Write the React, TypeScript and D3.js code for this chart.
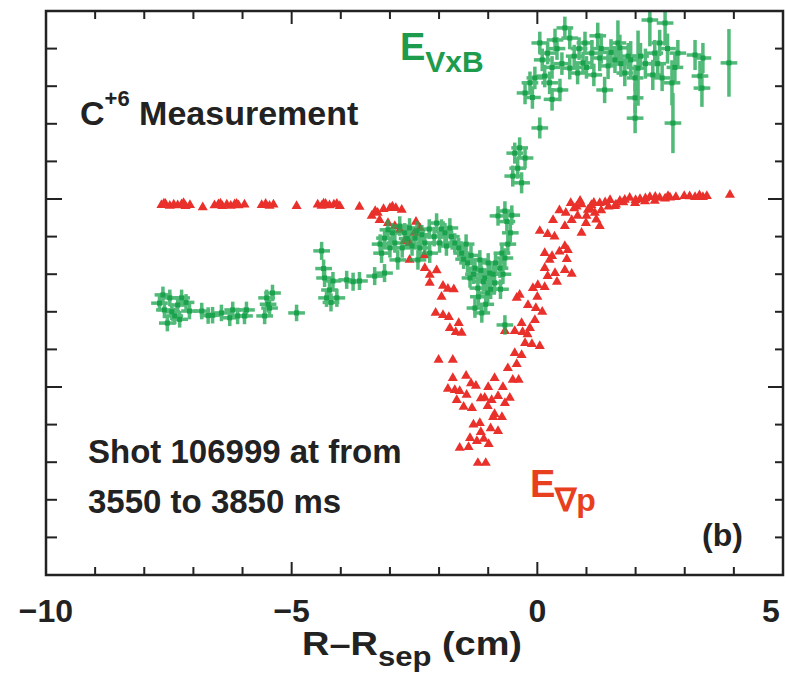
import * as d3 from "d3";

// E_grad_p (red triangles): R-Rsep (cm) and field (arb.)
const redX = [
  -7.65, -7.57, -7.48, -7.4, -7.32, -7.24, -7.16, -7.07, -6.81, -6.57, -6.49, -6.41, -6.32, -6.24, -6.16,
  -6.08, -5.96, -5.61, -5.53, -5.45, -5.37, -4.9, -4.47, -4.39, -4.31, -4.23, -4.14, -4.02, -3.62, -3.37,
  -3.25, -3.13, -3.0, -2.88, -2.76, -3.21, -3.04, -2.9, -2.8, -2.7, -2.6, -2.47, -2.39, -2.6, -2.29,
  -2.19, -2.19, -1.92, -1.82, -2.07, -1.92, -1.8, -1.78, -1.66, -1.54, -2.01, -1.72, -1.72, -1.82, -1.68,
  -1.58, -1.25, -1.44, -1.64, -1.5, -1.33, -1.07, -0.93, -0.8, -0.66, -0.56, -1.01, -0.87, -0.72, -1.17,
  -0.8, -1.37, -1.23, -1.09, -0.99, -1.58, -1.21, -1.05, -0.87, -0.5, -0.38, -0.42, -0.46, -0.32, -0.25,
  -0.11, 0.05, -0.46, -0.3, -0.15, -0.66, -0.32, -0.05, -0.19, -0.03, -0.42, -0.36, 0.01, 0.15, -0.09,
  0.15, 0.25, 0.36, 0.21, 0.56, 0.7, 0.15, 0.3, 0.62, 0.56, 0.05, 0.21, 0.32, 0.56, 0.7, 0.82, 0.58,
  0.99, 1.17, 1.27, 1.07, 0.68, 0.87, 1.27, 1.48, 1.68, 1.88, 2.09, 2.29, 2.49, 2.66, 2.82, 2.99, 3.21,
  3.37, 3.92, 1.58, 1.03, 1.99, 2.39, 0.8, 1.1, 1.38, 1.78, 2.19, 2.6, 0.45, 0.9,
  -2.5, -2.3, -2.05, -1.95, -1.7, -1.6, -1.45, -1.35, -1.15, -1.0, -0.9, -0.95, -1.3, -1.4, -1.15,
  -0.7, -0.6, -0.2, 0.1, 0.0, 0.4, 0.45, 0.6, 0.35, 0.9, 1.0, 1.3, 1.45, 1.6, 1.75, 2.0, 2.2, 2.4,
  2.7, 3.1, 3.45, 3.3, 0.75, 1.2, 1.15, -7.6, -7.2, -6.45, -6.12, -4.35, -4.08, -3.3, -2.95,
];
const redY = [
  -1.6, -1.3, -1.8, -1.5, -1.7, -1.4, -1.9, -1.6, -2.2, -1.7, -1.4, -1.9, -1.5, -1.8, -1.4,
  -1.7, -1.5, -1.6, -1.3, -1.8, -1.5, -1.9, -1.5, -1.8, -1.3, -1.7, -1.5, -1.9, -2.1, -4.5,
  -3.7, -2.7, -2.4, -2.4, -2.9, -5.6, -6.4, -7.2, -8.2, -11.2, -11.7, -6.1, -7.7, -16.2, -18.4,
  -20.2, -22.3, -23.1, -23.9, -30.3, -30.9, -31.4, -34.3, -35.4, -35.6, -42.8, -42.8, -47.6, -50.5, -50.8,
  -51.1, -49.7, -52.1, -53.5, -55.3, -55.6, -52.9, -53.5, -52.4, -54.3, -52.9, -55.1, -57.2, -58.0, -59.6,
  -61.7, -63.6, -64.4, -63.8, -65.2, -66.2, -70.2, -70.2, -47.6, -48.1, -48.1, -43.9, -41.0, -41.5, -38.3,
  -38.6, -39.1, -35.1, -35.4, -34.3, -35.1, -33.0, -32.2, -28.2, -29.0, -26.3, -25.5, -22.9, -23.4, -23.7,
  -18.4, -16.2, -19.7, -20.5, -18.9, -19.9, -14.4, -15.2, -13.6, -12.5, -8.5, -9.3, -5.6, -7.2, -5.6, -4.5, -3.7,
  -6.4, -3.7, -7.2, -2.4, -1.1, -0.5, -1.1, -0.3, -0.5, 0.3, 0.0, 0.5, 0.3, 0.8, 0.5, 0.8, 0.5,
  0.5, 1.1, -1.9, -2.9, -1.1, -0.5, -2.0, -1.6, -0.9, -0.2, -0.6, 0.1, -3.0, -1.4,
  -9.0, -15.0, -19.0, -26.0, -24.0, -33.0, -47.0, -49.0, -53.0, -50.0, -58.0, -61.0, -60.0, -66.0, -62.0,
  -50.0, -45.0, -36.0, -30.0, -26.0, -22.0, -14.0, -16.0, -10.0, -9.0, -4.5, -3.0, -2.0, -1.5, -0.9, -0.3, 0.2, 0.6,
  0.4, 0.7, 0.8, 1.0, -2.5, -5.5, -1.0, -1.2, -1.1, -1.2, -1.3, -1.2, -1.3, -3.2, -2.0,
];

// E_VxB (green, with error bars)
const greenX = [
  -7.69, -7.59, -7.48, -7.38, -7.53, -7.32, -7.24, -7.08, -6.83, -6.61, -6.43, -6.26, -6.1, -5.96, -5.92,
  -5.51, -5.45, -5.55, -5.39, -4.9, -4.39, -4.33, -4.16, -4.23, -4.29, -4.08, -3.88, -3.62, -3.31, -3.11,
  -3.11, -3.0, -2.9, -3.17, -2.84, -3.04, -2.8, -2.7, -2.6, -2.49, -2.39, -2.29, -2.19, -2.43, -2.05,
  -1.88, -1.78, -1.68, -1.99, -1.54, -1.42, -1.27, -1.17, -1.07, -0.97, -0.87, -0.76, -0.66, -1.37, -1.21,
  -1.01, -1.27, -1.13, -0.8, -0.66, -0.52, -0.66, -0.72, -0.46, -0.36, -0.25, -0.4, -0.32, -0.5, 0.05,
  -0.25, -0.15, -0.05, 0.05, 0.21, 0.36, 0.25, 0.46, 0.15, 0.56, 0.66, 0.66, 0.82, 0.93, 0.97,
  1.11, 1.23, 1.27, 1.44, 1.58, 1.37, 1.64, 1.78, 1.99, 2.05, 1.99, 2.29, 2.49, 2.39, 2.6,
  2.74, 2.76, 1.99, 2.54, 2.86, 3.21, 3.37, 3.31, 3.35, 3.9, 1.68, 1.85,
  -3.2, -2.95, -2.75, -2.65, -2.55, -2.45, -2.35, -2.2, -2.1, -1.95, -1.85, -1.75, -1.6, -1.5, -1.45,
  -1.35, -1.3, -1.15, -1.1, -1.0, -0.9, -0.95, -0.85, -0.7, -0.75, -1.2, -1.05, -0.6, -0.55, -0.62,
  0.1, 0.3, 0.4, 0.5, 0.75, 0.85, 1.0, 1.15, 1.3, 1.5, 1.7, 1.9, 2.1, 2.2, 2.35,
  2.45, 2.65, 2.8, 0.3, -0.1, -7.62, -7.44, -7.28, -7.15, -6.7, -6.2, -5.48, -4.35, -4.2, -3.75,
];
const greenY = [
  -27.7, -29.5, -26.3, -31.1, -33.0, -28.2, -26.3, -29.8, -29.8, -30.9, -30.3, -31.6, -31.1, -31.1, -29.5,
  -26.3, -29.0, -31.1, -25.0, -30.3, -13.8, -21.0, -21.8, -24.2, -26.3, -26.3, -21.5, -21.8, -20.5, -19.7,
  -10.4, -13.0, -11.7, -14.4, -16.2, -8.2, -7.2, -9.0, -7.7, -10.4, -13.0, -11.7, -14.4, -16.2, -6.4,
  -9.0, -7.7, -11.7, -11.7, -14.4, -17.0, -18.4, -16.2, -21.0, -19.7, -22.3, -18.4, -15.7, -21.0, -23.7,
  -25.0, -29.0, -30.3, -4.5, -3.2, -4.3, -33.5, -14.4, 12.2, 13.6, 10.9, 8.2, 4.3, 6.1, 18.9,
  28.2, 30.9, 32.2, 41.5, 38.8, 42.3, 30.9, 29.0, 32.7, 45.5, 42.8, 34.8, 33.5, 36.2, 41.5,
  38.8, 43.4, 37.5, 35.4, 37.0, 29.0, 41.5, 33.5, 32.2, 34.8, 26.9, 47.6, 41.5, 38.8, 46.8,
  30.9, 20.2, 21.5, 32.2, 38.8, 38.3, 37.5, 32.7, 29.5, 36.2, 40.2, 38.0,
  -12.0, -9.0, -13.0, -10.5, -12.5, -8.5, -9.5, -8.0, -10.0, -8.0, -12.5, -10.0, -13.0, -16.0, -12.0,
  -15.0, -20.0, -19.0, -22.0, -17.0, -20.0, -24.0, -17.0, -20.0, -24.0, -26.0, -28.0, -12.0, -9.0, -6.0,
  37.0, 35.0, 40.0, 36.0, 38.0, 40.0, 35.0, 33.0, 40.0, 39.0, 36.0, 37.0, 38.0, 36.0, 33.0,
  36.0, 40.0, 35.0, 26.5, 27.0, -25.5, -30.0, -32.0, -27.5, -31.0, -29.5, -28.0, -18.5, -27.5, -22.0,
];
const greenYErr = [
  2.2, 2.2, 2.2, 2.2, 2.2, 2.2, 2.2, 2.2, 2.2, 2.2, 2.2, 2.2, 2.2, 2.2, 2.2,
  2.2, 2.2, 2.2, 2.2, 2.2, 2.4, 2.4, 2.4, 2.4, 2.4, 2.4, 2.4, 2.4, 2.4, 2.4,
  2.6, 2.6, 2.6, 2.6, 2.6, 2.6, 2.6, 2.6, 2.6, 2.6, 2.6, 2.6, 2.6, 2.6, 2.6,
  2.6, 2.6, 2.6, 2.6, 2.6, 2.6, 2.6, 2.6, 2.6, 2.6, 2.6, 2.6, 2.6, 2.6, 2.6,
  2.6, 2.6, 2.6, 2.6, 2.6, 2.6, 2.6, 2.6, 2.8, 2.8, 2.8, 2.8, 2.8, 2.8, 2.8,
  3.0, 3.0, 3.0, 3.0, 3.0, 3.0, 3.0, 3.0, 3.0, 3.0, 3.0, 3.0, 3.0, 3.0, 3.0,
  3.5, 3.5, 3.5, 3.5, 3.5, 3.5, 6.0, 3.5, 3.5, 10.0, 4.0, 7.0, 3.5, 3.5, 6.0,
  6.0, 8.0, 4.0, 3.5, 3.5, 4.0, 4.0, 4.0, 5.0, 9.0, 3.5, 3.5,
  2.6, 2.6, 2.6, 2.6, 2.6, 2.6, 2.6, 2.6, 2.6, 2.6, 2.6, 2.6, 2.6, 2.6, 2.6,
  2.6, 2.6, 2.6, 2.6, 2.6, 2.6, 2.6, 2.6, 2.6, 2.6, 2.6, 2.6, 2.6, 2.6, 2.6,
  3.0, 3.0, 3.0, 3.0, 3.0, 3.0, 3.0, 3.0, 4.0, 3.5, 3.5, 5.0, 3.5, 4.0, 4.0,
  3.5, 4.0, 4.0, 3.0, 3.0, 2.2, 2.2, 2.2, 2.2, 2.2, 2.2, 2.2, 2.4, 2.4, 2.4,
];
const greenXErr = 0.17;

const xTicks = [-10, -5, 0, 5];
const xTickLabels = ["\u221210", "\u22125", "0", "5"];

const W = 786;
const H = 679;
const left = 46;
const right = 783;
const top = 11;
const bottom = 575;

const font = "'Liberation Sans', Arial, Helvetica, sans-serif";
const green = "#1ba24d";
const red = "#e9302b";

export default function App() {
  const x = d3.scaleLinear().domain([-10, 5]).range([left, right]);
  const y = d3.scaleLinear().domain([-100, 50]).range([bottom, top]);
  const tri = d3.symbol().type(d3.symbolTriangle).size(44)() as string;

  const xMinor = d3.range(-10, 5.01, 1);
  const yMinor = d3.range(-100, 50.01, 10);

  return (
    <svg width={W} height={H} style={{ position: "absolute", left: 0, top: 0, background: "#fff" }}
      fontFamily={font} fontWeight="bold">
      <defs>
        <clipPath id="plotClip">
          <rect x={left} y={top} width={right - left} height={bottom - top} />
        </clipPath>
      </defs>

      {/* red triangles */}
      <g fill={red}>
        {redX.map((v, i) => (
          <path key={i} d={tri} transform={`translate(${x(v)},${y(redY[i])})`} />
        ))}
      </g>

      {/* green points with error bars */}
      <g clipPath="url(#plotClip)">
        <g stroke="#26a957" strokeWidth={3.5} opacity={0.8}>
          {greenX.map((v, i) => (
            <g key={i}>
              <line x1={x(v - greenXErr)} x2={x(v + greenXErr)} y1={y(greenY[i])} y2={y(greenY[i])} />
              <line x1={x(v)} x2={x(v)} y1={y(greenY[i] - greenYErr[i])} y2={y(greenY[i] + greenYErr[i])} />
            </g>
          ))}
        </g>
        <g fill={green}>
          {greenX.map((v, i) => (
            <rect key={i} x={x(v) - 2.5} y={y(greenY[i]) - 2.5} width={5} height={5} />
          ))}
        </g>
      </g>

      {/* frame and ticks */}
      <rect x={left} y={top} width={right - left} height={bottom - top} fill="none" stroke="#222" strokeWidth={2.5} />
      <g stroke="#222" strokeWidth={2}>
        {xMinor.map((t) => {
          const len = t % 5 === 0 ? 13 : 8;
          return (
            <g key={t}>
              <line x1={x(t)} x2={x(t)} y1={bottom} y2={bottom - len} />
              <line x1={x(t)} x2={x(t)} y1={top} y2={top + len} />
            </g>
          );
        })}
        {yMinor.map((t) => {
          const major = t % 50 === 0;
          return (
            <g key={t}>
              <line x1={left} x2={left + (major ? 16 : 11)} y1={y(t)} y2={y(t)} />
              <line x1={right} x2={right - (major ? 15 : 8)} y1={y(t)} y2={y(t)} />
            </g>
          );
        })}
      </g>

      {/* x tick labels */}
      <g fontSize={32} fill="#222" textAnchor="middle">
        {xTicks.map((t, i) => (
          <text key={t} x={Math.min(x(t), 771)} y={622}>{xTickLabels[i]}</text>
        ))}
      </g>

      {/* x axis title */}
      <text x={302} y={655} fontSize={33} fill="#222" textLength={220} lengthAdjust="spacingAndGlyphs">
        R–R<tspan fontSize={27} dy={11}>sep</tspan><tspan dy={-11}> (cm)</tspan>
      </text>

      {/* annotations */}
      <text x={80} y={125} fontSize={34} fill="#222">
        C<tspan fontSize={22} dy={-19}>+6</tspan><tspan dy={19}> Measurement</tspan>
      </text>
      <text x={400} y={60} fontSize={38} fill="#1c9c4c">
        E<tspan fontSize={30} dy={12}>VxB</tspan>
      </text>
      <text x={88} y={463} fontSize={33} fill="#222">Shot 106999 at from</text>
      <text x={88} y={513} fontSize={33} fill="#222">3550 to 3850 ms</text>
      <text x={530} y={497} fontSize={38} fill="#e8401f">
        E<tspan fontSize={32} dy={14}>∇p</tspan>
      </text>
      <text x={702} y={546} fontSize={32} fill="#222">(b)</text>
    </svg>
  );
}
